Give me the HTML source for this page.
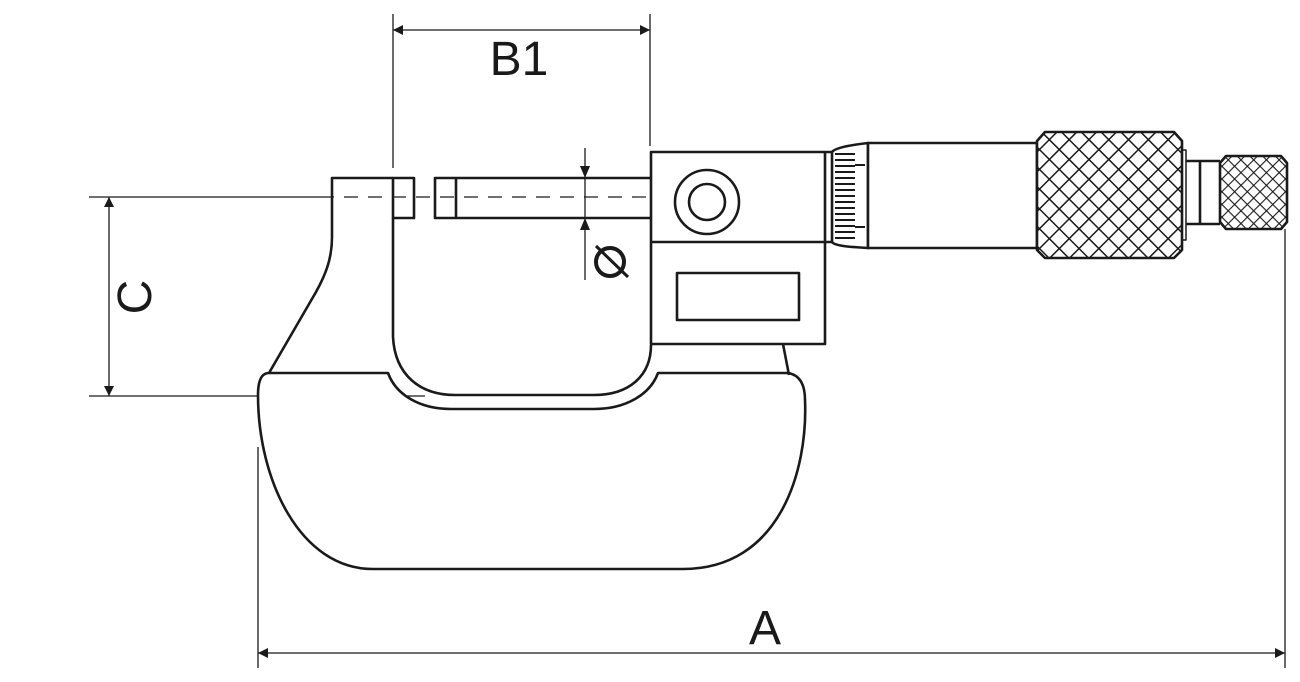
<!DOCTYPE html>
<html><head><meta charset="utf-8"><style>
html,body{margin:0;padding:0;background:#fff;width:1300px;height:682px;overflow:hidden}
svg{display:block}
text{font-family:"Liberation Sans",Arial,sans-serif;fill:#1a1a1a}
</style></head><body>
<svg width="1300" height="682" viewBox="0 0 1300 682" xmlns="http://www.w3.org/2000/svg">
<defs>
<pattern id="kn" width="14" height="14" patternUnits="userSpaceOnUse" patternTransform="rotate(45)">
<rect width="14" height="14" fill="#fff"/>
<path d="M0 0H14M0 0V14" stroke="#1a1a1a" stroke-width="3"/>
</pattern>
<pattern id="kn2" width="9" height="9" patternUnits="userSpaceOnUse" patternTransform="rotate(45)">
<rect width="9" height="9" fill="#fff"/>
<path d="M0 0H9M0 0V9" stroke="#1a1a1a" stroke-width="2.2"/>
</pattern>
<marker id="ar" viewBox="0 0 10 10" refX="10" refY="5" markerWidth="10" markerHeight="10" markerUnits="userSpaceOnUse" orient="auto-start-reverse">
<path d="M0 0L10 5L0 10z" fill="#1a1a1a"/>
</marker>
</defs>
<g fill="none" stroke="#1a1a1a" stroke-width="1.3">
<line x1="393" y1="14" x2="393" y2="168"/>
<line x1="650" y1="14" x2="650" y2="146"/>
<line x1="393" y1="30" x2="650" y2="30" marker-start="url(#ar)" marker-end="url(#ar)"/>
<line x1="89" y1="197" x2="320" y2="197"/>
<line x1="89" y1="396" x2="425" y2="396"/>
<line x1="109" y1="197" x2="109" y2="396" marker-start="url(#ar)" marker-end="url(#ar)"/>
<line x1="258" y1="447" x2="258" y2="668"/>
<line x1="1285" y1="229" x2="1285" y2="668"/>
<line x1="258" y1="653" x2="1285" y2="653" marker-start="url(#ar)" marker-end="url(#ar)"/>
<line x1="585" y1="148" x2="585" y2="280"/>
</g>
<path d="M580 166L590 166L585 178z M580 230L590 230L585 218z" fill="#1a1a1a"/>
<g fill="none" stroke="#1a1a1a" stroke-width="2.6" stroke-linejoin="round">
<path d="M269 373 L388 373 C396 395 420 409 451 409 L594 409 C625 409 650 395 658 373 L788 373 C800 375 805 385 805 400 C808 470 780 569 683 569 L373 569 C300 569 258 480 258 395 C258 380 262 373 269 373 Z" fill="#fff"/>
<path d="M269 373 L316 292 C326 274 332 258 332 237 L332 178 L393 178"/>
<path d="M393 218 L393 337 C395 375 420 395 455 395 L594 395 C630 395 651 375 651 345"/>
<path d="M783 344 L789 375"/>
<rect x="393" y="178" width="21" height="40" fill="#fff"/>
<path d="M651 178 L435 178 L435 218 L651 218 M456 178 L456 218"/>
<rect x="651" y="152" width="174" height="192" fill="#fff"/>
<line x1="651" y1="242" x2="825" y2="242"/>
<circle cx="707" cy="202" r="32"/>
<circle cx="707" cy="202" r="18"/>
<rect x="677" y="273" width="122" height="47"/>
<path d="M825 152 L832 152 L832 242 L825 242"/>
<path d="M832 152 C835 148 850 145 868 143 L868 248 C850 247 835 246 832 242"/>
<rect x="868" y="143" width="169" height="105" fill="#fff"/>
<path d="M1045 132 L1174 132 L1182 141 L1182 250 L1174 258 L1045 258 L1037 250 L1037 141 Z" fill="url(#kn)"/>
<rect x="1182" y="150" width="4" height="90" stroke-width="1.5"/>
<path d="M1186 161 L1220 161 M1186 224 L1220 224 M1200 161 L1200 224"/>
<path d="M1226 156 L1281 156 L1287 163 L1287 222 L1281 229 L1226 229 L1220 222 L1220 163 Z" fill="url(#kn2)"/>
</g>
<g stroke="#1a1a1a" stroke-width="2">
<path d="M835 154H855M835 160H855M835 166H855M835 172H855M835 178H855M835 184H855M835 190H855M835 196H855M835 202H855M835 208H855M835 214H855M835 220H855M835 226H855M835 232H855M835 238H855M855 165H865M855 227H865"/>
</g>
<line x1="320" y1="197" x2="651" y2="197" stroke="#1a1a1a" stroke-width="1.2" stroke-dasharray="14,10"/>
<text x="519" y="75" font-size="48" text-anchor="middle">B1</text>
<text x="765" y="644" font-size="48" text-anchor="middle">A</text>
<text transform="translate(151,297) rotate(-90)" font-size="48" text-anchor="middle">C</text>
<g fill="none" stroke="#1a1a1a" stroke-width="4">
<circle cx="610" cy="262" r="14"/>
</g>
<line x1="596" y1="246" x2="628" y2="277" stroke="#1a1a1a" stroke-width="3"/>
</svg>
</body></html>
